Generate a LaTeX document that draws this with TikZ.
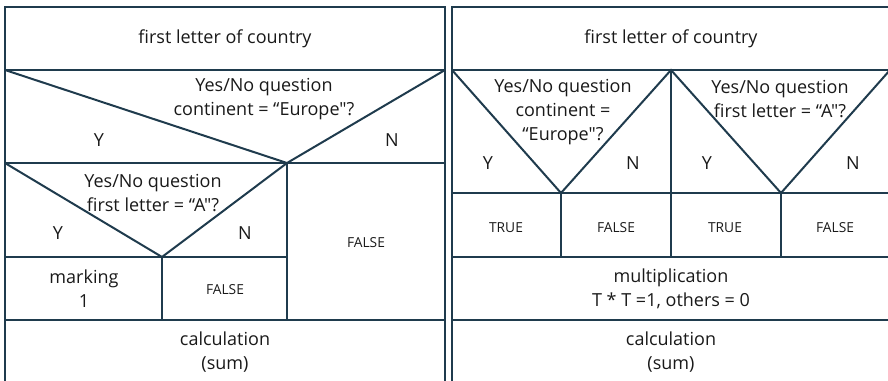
\documentclass[tikz,border=0pt]{standalone}
\usepackage{fontspec}
\setmainfont{Open Sans}[Ligatures=TeXOff]
\definecolor{nsline}{HTML}{1F3B4D}
\tikzset{
  nsbox/.style={draw=nsline,line width=0.05cm,line join=miter},
  txt/.style={font=\fontsize{12.8}{14}\selectfont,text=black!90,align=center,inner sep=0pt},
  small/.style={font=\fontsize{9.8}{11}\selectfont,text=black!90,inner sep=0pt}
}
\begin{document}
\begin{tikzpicture}[x=0.025cm,y=-0.025cm]
\useasboundingbox (0,0) rectangle (888,381);
%left panel
\draw[nsbox] (5,381) -- (5,7) -- (445,7) -- (445,381);
\draw[nsbox] (5,70) -- (445,70);
\draw[nsbox] (5,70) -- (287,163) -- (445,70);
\draw[nsbox] (5,163) -- (445,163);
\draw[nsbox] (5,163) -- (162,257) -- (287,163);
\draw[nsbox] (5,257) -- (287,257);
\draw[nsbox] (287,163) -- (287,320);
\draw[nsbox] (162,257) -- (162,320);
\draw[nsbox] (5,320) -- (445,320);

\node[txt] (ltitle) at (225,39) {first letter of country};
\node[txt] (lq1) at (264,99) {Yes/No question\\[3pt]continent = “Europe"?};
\node[txt] (ly1) at (99,140) {Y};
\node[txt] (ln1) at (392,140) {N};
\node[txt] (lq2) at (153,193) {Yes/No question\\[3pt]first letter = “A"?};
\node[txt] (ly2) at (58,233) {Y};
\node[txt] (ln2) at (245,233) {N};
\node[small] (lf1) at (366,243) {FALSE};
\node[txt] (lmark) at (84,289) {marking\\[3pt]1};
\node[small] (lf2) at (225,290) {FALSE};
\node[txt] (lsum) at (225,352) {calculation\\[3pt](sum)};

%right panel
\draw[nsbox] (452,381) -- (452,7) -- (890,7) -- (890,381);
\draw[nsbox] (452,70) -- (890,70);
\draw[nsbox] (452,70) -- (561,193) -- (671,70) -- (781,193) -- (890,70);
\draw[nsbox] (452,193) -- (890,193);
\draw[nsbox] (671,70) -- (671,257);
\draw[nsbox] (561,193) -- (561,257);
\draw[nsbox] (781,193) -- (781,257);
\draw[nsbox] (452,257) -- (890,257);
\draw[nsbox] (452,320) -- (890,320);

\node[txt] (rtitle) at (671,39) {first letter of country};
\node[txt] (rq1) at (563,112) {Yes/No question\\[3pt]continent =\\[3pt]“Europe"?};
\node[txt] (ry1) at (488,163) {Y};
\node[txt] (rn1) at (633,163) {N};
\node[txt] (rq2) at (780,99) {Yes/No question\\[3pt]first letter = “A"?};
\node[txt] (ry2) at (707,163) {Y};
\node[txt] (rn2) at (853,163) {N};
\node[small] (rt1) at (506,228) {TRUE};
\node[small] (rf1) at (616,228) {FALSE};
\node[small] (rt2) at (725,228) {TRUE};
\node[small] (rf2) at (835,228) {FALSE};
\node[txt] (rmult) at (671,289) {multiplication\\[3pt]T * T =1, others = 0};
\node[txt] (rsum) at (671,352) {calculation\\[3pt](sum)};
\end{tikzpicture}
\end{document}
